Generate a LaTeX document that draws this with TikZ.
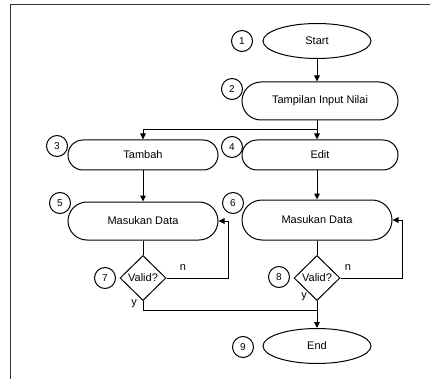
\documentclass[tikz,border=0pt]{standalone}
\usepackage{fontspec}
\setmainfont{Liberation Sans}
\usetikzlibrary{shapes.geometric,arrows.meta}

\tikzset{
	terminal/.style={draw,ellipse,minimum width=108pt,minimum height=35pt,inner sep=0pt},
	process/.style={draw,rectangle,rounded corners=15pt,minimum width=150pt,minimum height=30pt},
	decision/.style={draw,diamond,aspect=1,minimum width=46pt,minimum height=45pt,inner sep=0pt},
	number/.style={draw,circle,minimum size=21pt,inner sep=0pt,font=\fontsize{10}{12}\selectfont},
	label/.style={inner sep=1pt}
}

\begin{document}
\begin{tikzpicture}[x=1pt,y=-1pt,line width=1pt,-{Triangle[length=6pt,width=5.5pt]},font=\fontsize{11}{13}\selectfont]
			\useasboundingbox (0,0) rectangle (430,379);
			\draw[-,line width=1.3pt,black!80] (10.5,379) -- (10.5,4.5) -- (430,4.5);

			\node[terminal] (start) at (317,41) {Start};
			\node[process,minimum width=156pt,minimum height=38pt,rounded corners=19pt] (tampilan) at (320,101) {Tampilan Input Nilai};
			\node[process] (tambah) at (143,155) {Tambah};
			\node[process,minimum width=156pt] (edit) at (320,155) {Edit};
			\node[process,minimum height=38pt,rounded corners=19pt] (masuk1) at (143,221) {Masukan Data};
			\node[process,minimum height=40pt,rounded corners=20pt] (masuk2) at (317,220) {Masukan Data};
			\node[decision] (valid1) at (143,278) {Valid?};
			\node[decision] (valid2) at (317,278) {Valid?};
			\node[terminal] (end) at (317,346) {End};

			\node[number] (1) at (242,41) {1};
			\node[number] (2) at (232,89) {2};
			\node[number] (3) at (57,146) {3};
			\node[number] (4) at (232,147) {4};
			\node[number] (5) at (60,203) {5};
			\node[number] (6) at (233,203) {6};
			\node[number] (7) at (105,278) {7};
			\node[number] (8) at (279,277) {8};
			\node[number] (9) at (243,347) {9};

			\node[label] (n1) at (183,268) {n};
			\node[label] (n2) at (348,268) {n};
			\node[label] (y1) at (134,304) {y};
			\node[label] (y2) at (304,297) {y};

			\coordinate (split) at (317,130);
			\coordinate (loop1) at (228,278);
			\coordinate (loop2) at (402,278);
			\coordinate (join) at (317,310);

			\path
			  (start) edge (start |- tampilan.north)
			  (tampilan.south -| start) edge (start |- edit.north)
			  (tambah) edge (masuk1)
			  (edit.south -| start) edge (masuk2)
			  (valid2) edge (end);
			\draw (split) -| (tambah.north);
			\draw[-] (masuk1) -- (valid1);
			\draw[-] (masuk2) -- (valid2);
			\draw (valid1.east) -- (loop1) |- (masuk1.east);
			\draw (valid2.east) -- (loop2) |- (masuk2.east);
			\draw[-] (valid1.south) |- (join);

		  \end{tikzpicture}
\end{document}
